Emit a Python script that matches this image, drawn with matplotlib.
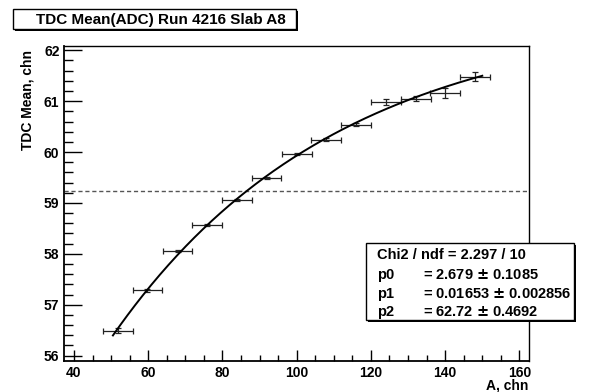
import numpy as np
import matplotlib
matplotlib.use("Agg")
import matplotlib.pyplot as plt
from matplotlib.patches import Rectangle
from matplotlib.ticker import MultipleLocator

plt.rcParams['font.family'] = ['Liberation Sans', 'DejaVu Sans']
plt.rcParams['font.weight'] = 'bold'

# Binned TDC mean vs ADC amplitude
adc = [51.8, 59.8, 67.9, 75.9, 83.9, 91.9, 100.0, 107.9, 116.0, 124.1, 132.2, 140.0, 148.1]
tdc_mean = [56.49, 57.28, 58.06, 58.56, 59.05, 59.49, 59.96, 60.24, 60.54, 60.98, 61.05, 61.16, 61.48]
adc_err = [4.0] * 13
tdc_err = [0.05, 0.03, 0.02, 0.02, 0.02, 0.02, 0.02, 0.03, 0.03, 0.06, 0.05, 0.09, 0.09]

# Fit results: f(x) = p2 - exp(p0 - p1*x)
p0, p0_err = 2.679, 0.1085
p1, p1_err = 0.01653, 0.002856
p2, p2_err = 62.72, 0.4692
chi2, ndf = 2.297, 10
fit_range = (50.5, 150.0)
ref_level = 59.23

title = "TDC Mean(ADC) Run 4216 Slab A8"
xlabel = "A, chn"
ylabel = "TDC Mean, chn"

W, H = 589, 392
fig = plt.figure(figsize=(W / 100, H / 100), dpi=100)
fig.patch.set_facecolor('white')

# axes frame in pixel coords
L, R, T, B = 64.3, 528.7, 45.7, 360.7
ax = fig.add_axes([L / W, 1 - B / H, (R - L) / W, (B - T) / H])
ax.set_xlim(37.4, 162.5)
ax.set_ylim(55.9, 62.09)

ax.errorbar(adc, tdc_mean, xerr=adc_err, yerr=tdc_err, fmt='none',
            ecolor='#222222', elinewidth=0.9, capsize=2.0, capthick=0.9, zorder=3)

xf = np.linspace(fit_range[0], fit_range[1], 300)
ax.plot(xf, p2 - np.exp(p0 - p1 * xf), color='black', lw=1.4, zorder=4)

ax.axhline(ref_level, color='#555555', lw=1.0, ls=(0, (3, 2)), zorder=2)

# ticks inside, only bottom/left
ax.xaxis.set_major_locator(MultipleLocator(20))
ax.xaxis.set_minor_locator(MultipleLocator(5))
ax.yaxis.set_major_locator(MultipleLocator(1))
ax.yaxis.set_minor_locator(MultipleLocator(0.2))
ax.tick_params(axis='x', which='major', direction='in', length=8, width=1, pad=3.5, labelsize=10)
ax.tick_params(axis='x', which='minor', direction='in', length=4, width=1)
ax.tick_params(axis='y', which='major', direction='in', length=13, width=1, pad=3.5, labelsize=10)
ax.tick_params(axis='y', which='minor', direction='in', length=6.5, width=1)
ax.tick_params(top=False, right=False, which='both')
for lab in ax.get_xticklabels() + ax.get_yticklabels():
    lab.set_fontweight('bold')
for s in ax.spines.values():
    s.set_linewidth(1.0)
ax.spines['left'].set_linewidth(1.3)
ax.spines['bottom'].set_linewidth(1.3)

# axis titles
fig.text(R / W, 1 - 389.5 / H, xlabel, ha='right', va='baseline', fontsize=10, fontweight='bold')
fig.text(27 / W, 1 - 50 / H, ylabel, ha='center', va='top', rotation=90, fontsize=10, fontweight='bold')


def shadow_box(x0, y0, x1, y1):
    # box with drop shadow, pixel coords from top-left
    fig.patches.append(Rectangle((x0 / W + 2 / W, 1 - (y1 + 2) / H), (x1 - x0) / W, (y1 - y0) / H,
                                 transform=fig.transFigure, facecolor='black', edgecolor='black', lw=0, zorder=5))
    fig.patches.append(Rectangle((x0 / W, 1 - y1 / H), (x1 - x0) / W, (y1 - y0) / H,
                                 transform=fig.transFigure, facecolor='white', edgecolor='black', lw=1.0, zorder=6))


# title box
shadow_box(12.7, 9.3, 296, 29.3)
fig.text(161 / W, 1 - 19.8 / H, title, ha='center', va='center', fontsize=11, fontweight='bold', zorder=7)

# stats box
shadow_box(366, 242.7, 574, 320)
lines = [
    ("Chi2 / ndf = %.3f / %d" % (chi2, ndf), None),
    ("p0", "= %s $\\pm$ %s" % ("2.679", "0.1085")),
    ("p1", "= %s $\\pm$ %s" % ("0.01653", "0.002856")),
    ("p2", "= %s $\\pm$ %s" % ("62.72", "0.4692")),
]
ys = [255, 275, 294, 312]
for (a, b), yy in zip(lines, ys):
    fig.text(377 / W, 1 - yy / H, a, ha='left', va='center', fontsize=10.5, fontweight='bold', zorder=7)
    if b is not None:
        fig.text(423 / W, 1 - yy / H, b, ha='left', va='center', fontsize=10.5, fontweight='bold', zorder=7)

fig.savefig('out.png', dpi=100, facecolor='white')
